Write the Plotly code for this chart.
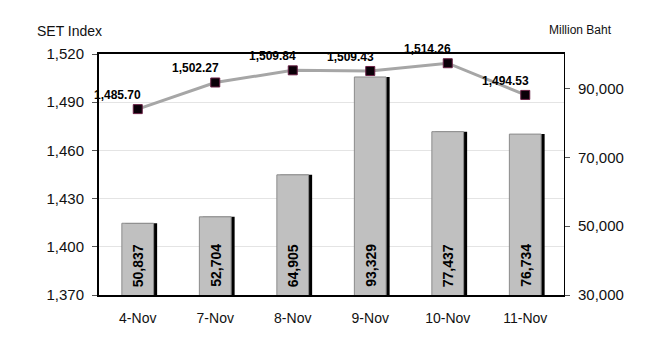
import plotly.graph_objects as go

categories = ["4-Nov", "7-Nov", "8-Nov", "9-Nov", "10-Nov", "11-Nov"]
set_index = [1485.70, 1502.27, 1509.84, 1509.43, 1514.26, 1494.53]
turnover = [50837, 52704, 64905, 93329, 77437, 76734]
left_ticks = [1370, 1400, 1430, 1460, 1490, 1520]
right_ticks = [30000, 50000, 70000, 90000]

FONT = "Liberation Sans, Arial, sans-serif"

fig = go.Figure()

# bar shadow
fig.add_trace(go.Bar(
    x=categories, y=turnover,
    width=0.41, offset=-0.205 + 0.045,
    marker=dict(color="#000000", line=dict(width=0)),
    hoverinfo="skip", showlegend=False, yaxis="y",
))
# bars
fig.add_trace(go.Bar(
    x=categories, y=turnover,
    width=0.41, offset=-0.205,
    marker=dict(color="#c0c0c0", line=dict(color="#8a8a8a", width=1)),
    showlegend=False, yaxis="y",
))
# line
fig.add_trace(go.Scatter(
    x=categories, y=set_index, mode="lines+markers",
    line=dict(color="#a6a6a6", width=3),
    marker=dict(symbol="square", size=9, color="#0a0008", line=dict(color="#6a2045", width=1)),
    showlegend=False, yaxis="y2",
))

# bar value labels (vertical, at bar base)
for c, v in zip(categories, turnover):
    fig.add_annotation(
        x=c, y=right_ticks[0], xref="x", yref="y", text=f"{v:,}", showarrow=False,
        textangle=-90, xanchor="center", yanchor="bottom", yshift=6,
        font=dict(family=FONT, size=14, color="#000000", weight="bold"),
    )

# index value labels
for c, v in zip(categories, set_index):
    fig.add_annotation(
        x=c, y=v, xref="x", yref="y2", text=f"{v:,.2f}", showarrow=False,
        xanchor="center", yanchor="middle", xshift=-20, yshift=14,
        font=dict(family=FONT, size=12, color="#000000", weight="bold"),
    )

fig.add_annotation(x=-0.1376, y=1.095, xref="paper", yref="paper", text="SET Index",
                   showarrow=False, xanchor="left", yanchor="middle",
                   font=dict(family=FONT, size=14, color="#111111"))
fig.add_annotation(x=0.963, y=1.10, xref="paper", yref="paper", text="Million Baht",
                   showarrow=False, xanchor="left", yanchor="middle",
                   font=dict(family=FONT, size=12, color="#111111"))

fig.update_layout(
    width=666, height=360,
    margin=dict(l=99, r=102, t=54, b=65),
    paper_bgcolor="white", plot_bgcolor="white",
    barmode="overlay",
    xaxis=dict(
        range=[-0.5, len(categories) - 0.5],
        showline=True, linecolor="#000000", linewidth=2, mirror=True,
        ticks="", showgrid=False, ticklabelstandoff=9,
        tickfont=dict(family=FONT, size=14, color="#111111"),
    ),
    yaxis=dict(
        side="right", range=[30000, 100000], tickvals=right_ticks,
        ticktext=[f"{v:,}" for v in right_ticks],
        showgrid=False, zeroline=False,
        showline=True, linecolor="#000000", linewidth=1,
        ticks="outside", ticklen=5, tickcolor="#555555", ticklabelstandoff=5,
        tickfont=dict(family=FONT, size=15, color="#111111"),
    ),
    yaxis2=dict(
        side="left", overlaying="y", range=[1370, 1520], tickvals=left_ticks,
        ticktext=[f"{v:,}" for v in left_ticks],
        showgrid=True, gridcolor="#e4e4e4", gridwidth=1, zeroline=False,
        showline=True, linecolor="#000000", linewidth=2,
        ticks="outside", ticklen=5, tickcolor="#555555", ticklabelstandoff=5,
        tickfont=dict(family=FONT, size=15, color="#111111"),
    ),
)

fig.write_html("out.html")
